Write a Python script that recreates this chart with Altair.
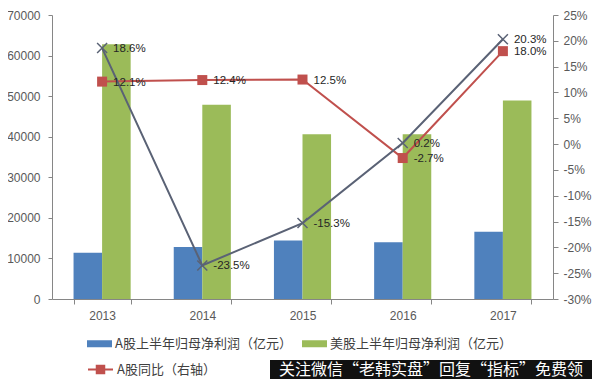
import altair as alt
import pandas as pd

years = ["2013", "2014", "2015", "2016", "2017"]
a_profit = [11400, 12800, 14400, 14000, 16600]
us_profit = [62800, 47900, 40600, 40600, 48900]
a_yoy = [12.1, 12.4, 12.5, -2.7, 18.0]
us_yoy = [18.6, -23.5, -15.3, 0.2, 20.3]
bar_names = ["A股上半年归母净利润（亿元）", "美股上半年归母净利润（亿元）"]
line_names = ["A股同比（右轴）", "美股同比"]
watermark = "关注微信“老韩实盘”回复“指标”免费领"

FONT = "Liberation Sans, Noto Sans CJK SC"
CJK = "Noto Sans CJK SC"
BLUE, GREEN, RED, GRAY = "#4F81BD", "#9BBB59", "#C0504D", "#5A6275"

bar_df = pd.DataFrame(
    [{"年份": y, "指标": bar_names[0], "值": v} for y, v in zip(years, a_profit)]
    + [{"年份": y, "指标": bar_names[1], "值": v} for y, v in zip(years, us_profit)]
)
line_df = pd.DataFrame(
    [{"年份": y, "系列": line_names[0], "值": v, "标签": f"{v:.1f}%"} for y, v in zip(years, a_yoy)]
    + [{"年份": y, "系列": line_names[1], "值": v, "标签": f"{v:.1f}%"} for y, v in zip(years, us_yoy)]
)
wm_df = pd.DataFrame({"t": [watermark]})

x_enc = alt.X(
    "年份:N", sort=years,
    scale=alt.Scale(paddingInner=0.43, paddingOuter=0.215),
    axis=alt.Axis(title=None, labelAngle=0, tickBand="extent", tickSize=5, labelPadding=6),
)

bars = alt.Chart(bar_df).mark_bar().encode(
    x=x_enc,
    xOffset=alt.XOffset("指标:N", sort=bar_names, scale=alt.Scale(paddingInner=0, paddingOuter=0)),
    y=alt.Y("值:Q", scale=alt.Scale(domain=[0, 70000], nice=False),
            axis=alt.Axis(values=list(range(0, 70001, 10000)), format="d", title=None,
                          tickSize=4, labelPadding=8)),
    color=alt.Color("指标:N", sort=bar_names,
                    scale=alt.Scale(domain=bar_names, range=[BLUE, GREEN]),
                    legend=alt.Legend(orient="none", legendX=35, legendY=316, direction="horizontal",
                                      columns=2, columnPadding=10, title=None,
                                      symbolType="M-1,-0.28H1V0.28H-1Z", symbolSize=625,
                                      symbolStrokeWidth=0, labelOffset=3, labelFont=CJK,
                                      labelFontSize=13, labelColor="#404040", labelLimit=400,
                                      padding=0)),
)

y_right = alt.Y("值:Q", scale=alt.Scale(domain=[-30, 25], nice=False),
                axis=alt.Axis(orient="right", values=list(range(-30, 26, 5)),
                              labelExpr="datum.value + '%'", title=None, tickSize=5, labelPadding=5))

lines = alt.Chart(line_df).mark_line(strokeWidth=2).encode(
    x=alt.X("年份:N", sort=years),
    y=y_right,
    stroke=alt.Stroke("系列:N", scale=alt.Scale(domain=line_names, range=[RED, GRAY]),
                      legend=alt.Legend(values=[line_names[0]], orient="none", legendX=35, legendY=341,
                                        title=None, symbolType="M-1,0H1M-0.3,-0.3H0.3V0.3H-0.3Z",
                                        symbolSize=625, symbolStrokeWidth=2, symbolFillColor=RED,
                                        labelOffset=3, labelFont=CJK, labelFontSize=13,
                                        labelColor="#404040", labelLimit=400, padding=0)),
)

squares = alt.Chart(line_df).transform_filter(
    alt.datum["系列"] == line_names[0]
).mark_point(shape="square", filled=True, size=100, color=RED, opacity=1).encode(
    x=alt.X("年份:N", sort=years), y=y_right)

crosses = alt.Chart(line_df).transform_filter(
    alt.datum["系列"] == line_names[1]
).mark_point(shape="M-1,-1L1,1M-1,1L1,-1", filled=False, size=100, strokeWidth=1.5,
             color=GRAY, opacity=1).encode(
    x=alt.X("年份:N", sort=years), y=y_right)

labels = alt.Chart(line_df).mark_text(align="left", dx=11, dy=1, fontSize=11.5, font=FONT,
                                      color="#262626").encode(
    x=alt.X("年份:N", sort=years), y=y_right, text="标签:N")

right = alt.layer(lines, squares, crosses, labels)

wm_rect = alt.Chart(wm_df).mark_rect(color="#111111").encode(
    x=alt.value(218), x2=alt.value(540), y=alt.value(345), y2=alt.value(364))
wm_text = alt.Chart(wm_df).mark_text(align="center", baseline="middle", fontSize=16, font=CJK,
                                     color="white").encode(
    x=alt.value(379), y=alt.value(355), text="t:N")

chart = alt.layer(bars, right, wm_rect, wm_text).resolve_scale(y="independent").properties(
    width=501, height=284,
    autosize=alt.AutoSizeParams(type="none"),
    padding={"left": 44, "top": 7, "right": 39, "bottom": 80},
).configure_view(stroke=None).configure_axis(
    labelFont=FONT, labelFontSize=12, labelColor="#595959",
    domainColor="#868686", tickColor="#868686", grid=False,
)

chart.save("out.html", embed_options={"renderer": "svg", "actions": False})
